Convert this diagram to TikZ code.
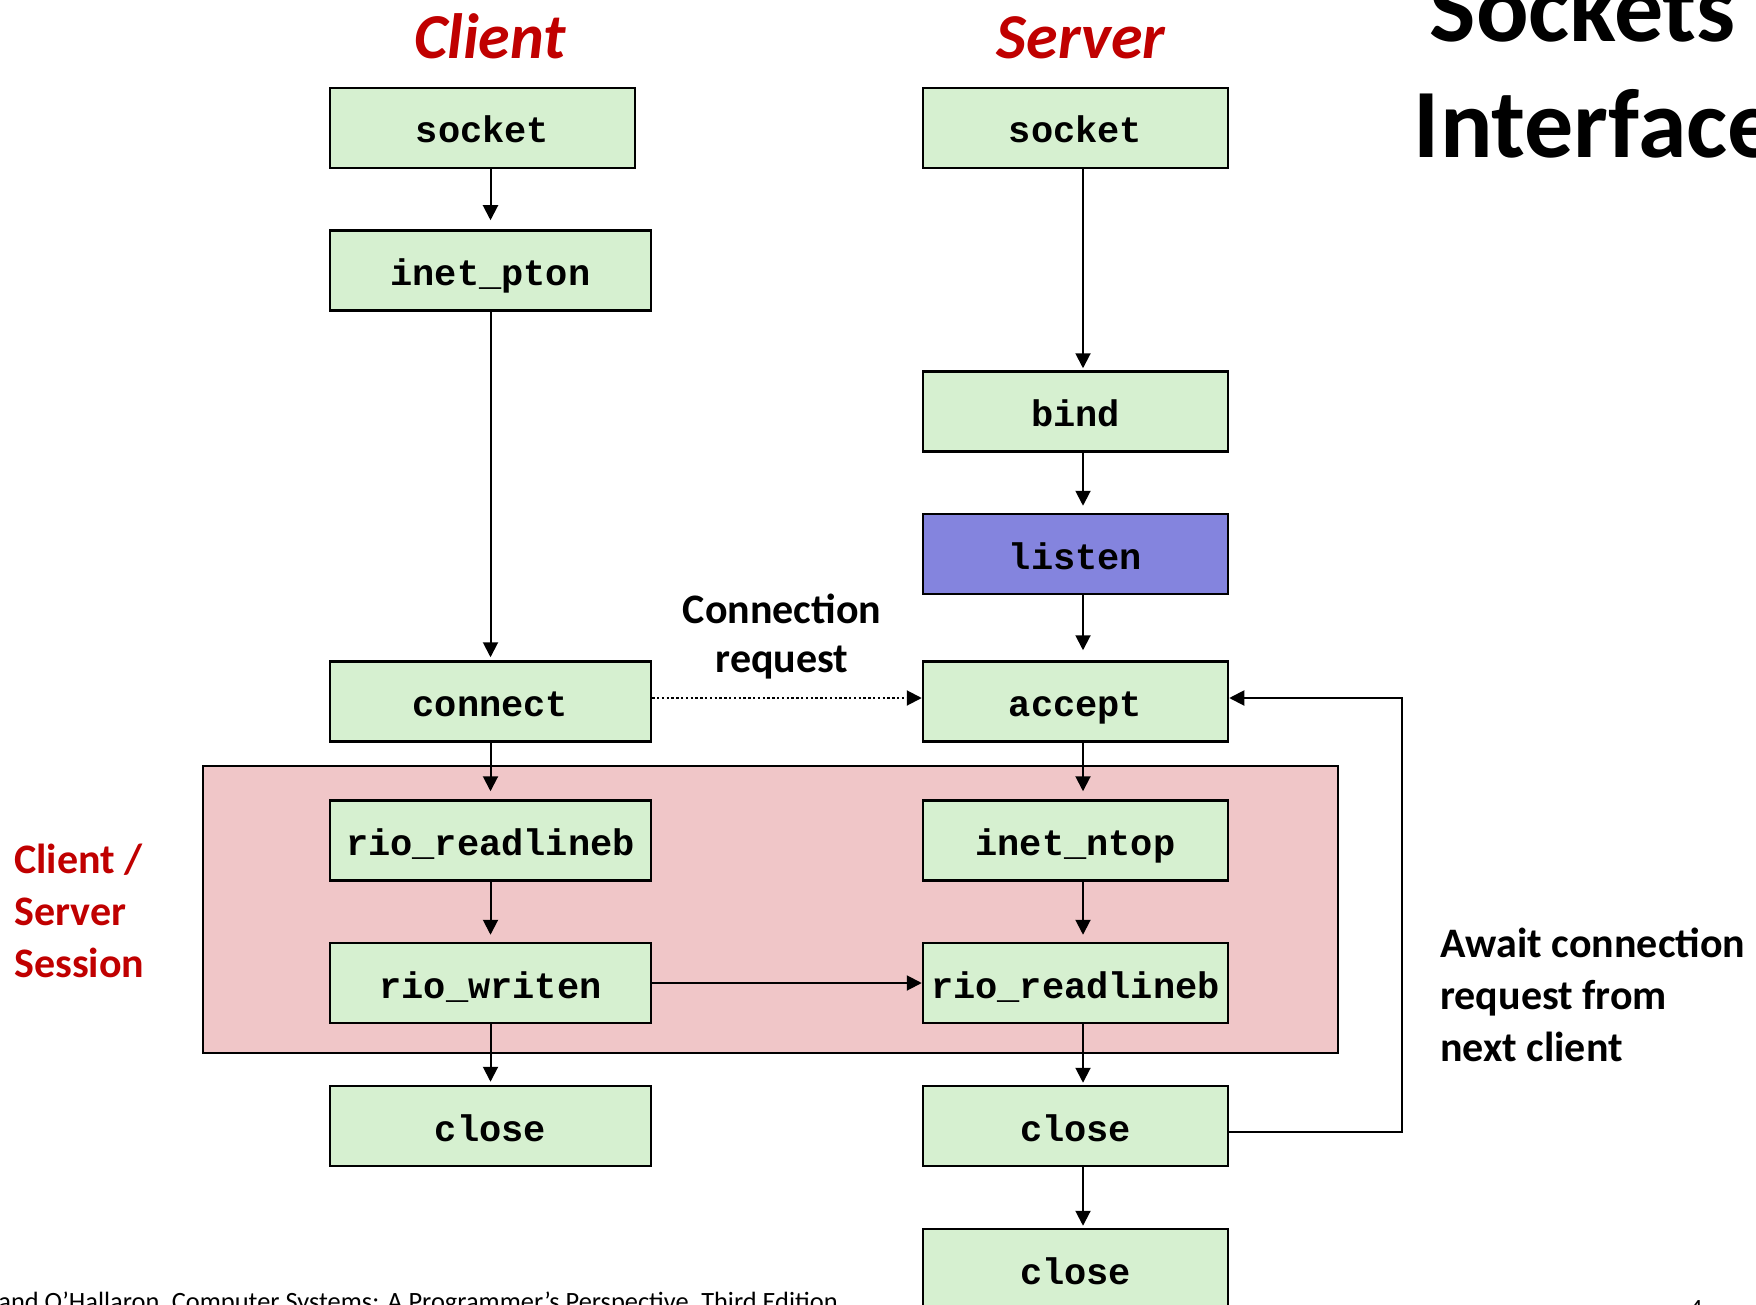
\documentclass[tikz,border=0pt]{standalone}
\usepackage{fontspec}
\setmainfont{Carlito}
\newfontfamily\codefont{Liberation Mono}
\usetikzlibrary{arrows.meta}

\definecolor{boxgreen}{RGB}{214,240,208}
\definecolor{boxblue}{RGB}{132,132,222}
\definecolor{sessionpink}{RGB}{240,198,200}
\definecolor{titlered}{RGB}{192,0,0}

\tikzset{
  fn/.style={draw=black, line width=1.25pt, fill=boxgreen, inner sep=0pt,
             minimum height=40pt, text height=15pt, text depth=0pt,
             font=\codefont\bfseries\fontsize{18.5}{22}\selectfont},
  cbox/.style={fn, minimum width=160.5pt},
  sbox/.style={fn, minimum width=152.5pt},
  flow/.style={draw=black, line width=1pt, -{Triangle[length=7.5pt,width=7.5pt]}},
  request/.style={flow, dash pattern=on 1.2pt off 1.2pt},
  sidetitle/.style={font=\bfseries\itshape\fontsize{32}{38}\selectfont, text=titlered, anchor=base},
  note/.style={font=\bfseries\fontsize{21}{25.7}\selectfont, align=left, inner sep=0pt},
  headline/.style={font=\bfseries\fontsize{49}{58}\selectfont, anchor=base west, inner sep=0pt},
  footline/.style={font=\fontsize{13.2}{15}\selectfont, anchor=base west, inner sep=0pt},
}

\begin{document}
\begin{tikzpicture}[x=0.5pt,y=-0.5pt]
\path[use as bounding box, clip] (0,0) rectangle (1756,1305);

% session area
\node[draw=black, line width=1.25pt, fill=sessionpink, minimum width=567.5pt, minimum height=143.5pt, inner sep=0pt]
  (session) at (770.5,909.5) {};

% column titles
\node[sidetitle] (tclient) at (490,59) {Client};
\node[sidetitle] (tserver) at (1081,59) {Server};

% slide title
\node[headline] (title1) at (1429.5,42) {Sockets};
\node[headline] (title2) at (1413.5,158) {Interface};

% client column
\node[sbox] (cs) at (482.5,128) {socket};
\node[cbox] (ci) at (490.5,270.5) {inet\_pton};
\node[cbox] (cc) at (490.5,701.5) {connect};
\node[cbox] (cr) at (490.5,840.5) {rio\_readlineb};
\node[cbox] (cw) at (490.5,983) {rio\_writen};
\node[cbox] (cx) at (490.5,1126) {close};

% server column
\node[sbox] (ss) at (1075.5,128) {socket};
\node[sbox] (sb) at (1075.5,411.5) {bind};
\node[sbox, fill=boxblue] (sl) at (1075.5,554) {listen};
\node[sbox] (sa) at (1075.5,701.5) {accept};
\node[sbox] (sn) at (1075.5,840.5) {inet\_ntop};
\node[sbox] (sr) at (1075.5,983) {rio\_readlineb};
\node[sbox] (sc) at (1075.5,1126) {close};
\node[sbox] (sd) at (1075.5,1269) {close};

% labels
\node[note, align=center, anchor=base] (req1) at (782,623) {Connection};
\node[note, align=center, anchor=base] (req2) at (782,672) {request};
\node[note, anchor=base west] (aw1) at (1440,957) {Await connection};
\node[note, anchor=base west] (aw2) at (1440,1009.5) {request from};
\node[note, anchor=base west] (aw3) at (1440,1061.5) {next client};
\node[note, text=titlered, anchor=base west] (ss1) at (14,873) {Client /};
\node[note, text=titlered, anchor=base west] (ss2) at (14,925) {Server};
\node[note, text=titlered, anchor=base west] (ss3) at (14,977) {Session};

% footer
\node[footline] (foot) at (-2,1310)
  {and O’Hallaron, Computer Systems: A Programmer’s Perspective, Third Edition};
\node[footline] (page) at (1689,1317) {4};

% client flow
\draw[flow, shorten >=4.5pt] (cs.south -| ci.north) -- (ci.north);
\draw[flow, shorten >=1.5pt] (ci) -- (cc);
\draw[flow, shorten >=4pt] (cc) -- (cr);
\draw[flow, shorten >=3.5pt] (cr) -- (cw);
\draw[flow, shorten >=1.5pt] (cw) -- (cx);

% server flow
\draw[flow, shorten >=1pt] ([xshift=3.75pt]ss.south) -- ([xshift=3.75pt]sb.north);
\draw[flow, shorten >=3.5pt] ([xshift=3.75pt]sb.south) -- ([xshift=3.75pt]sl.north);
\draw[flow, shorten >=5pt] ([xshift=3.75pt]sl.south) -- ([xshift=3.75pt]sa.north);
\draw[flow, shorten >=4pt] ([xshift=3.75pt]sa.south) -- ([xshift=3.75pt]sn.north);
\draw[flow, shorten >=3.5pt] ([xshift=3.75pt]sn.south) -- ([xshift=3.75pt]sr.north);
\draw[flow, shorten >=1pt] ([xshift=3.75pt]sr.south) -- ([xshift=3.75pt]sc.north);
\draw[flow, shorten >=1pt] ([xshift=3.75pt]sc.south) -- ([xshift=3.75pt]sd.north);

% cross connections
\draw[request] ([yshift=1.75pt]cc.east) -- ([yshift=1.75pt]sa.west);
\draw[flow] (cw.east) -- (sr.west);
\coordinate (loop) at (1402,698);
\draw[flow] ([yshift=-3pt]sc.east) -| (loop) -- ([yshift=1.75pt]sa.east);
\end{tikzpicture}
\end{document}
